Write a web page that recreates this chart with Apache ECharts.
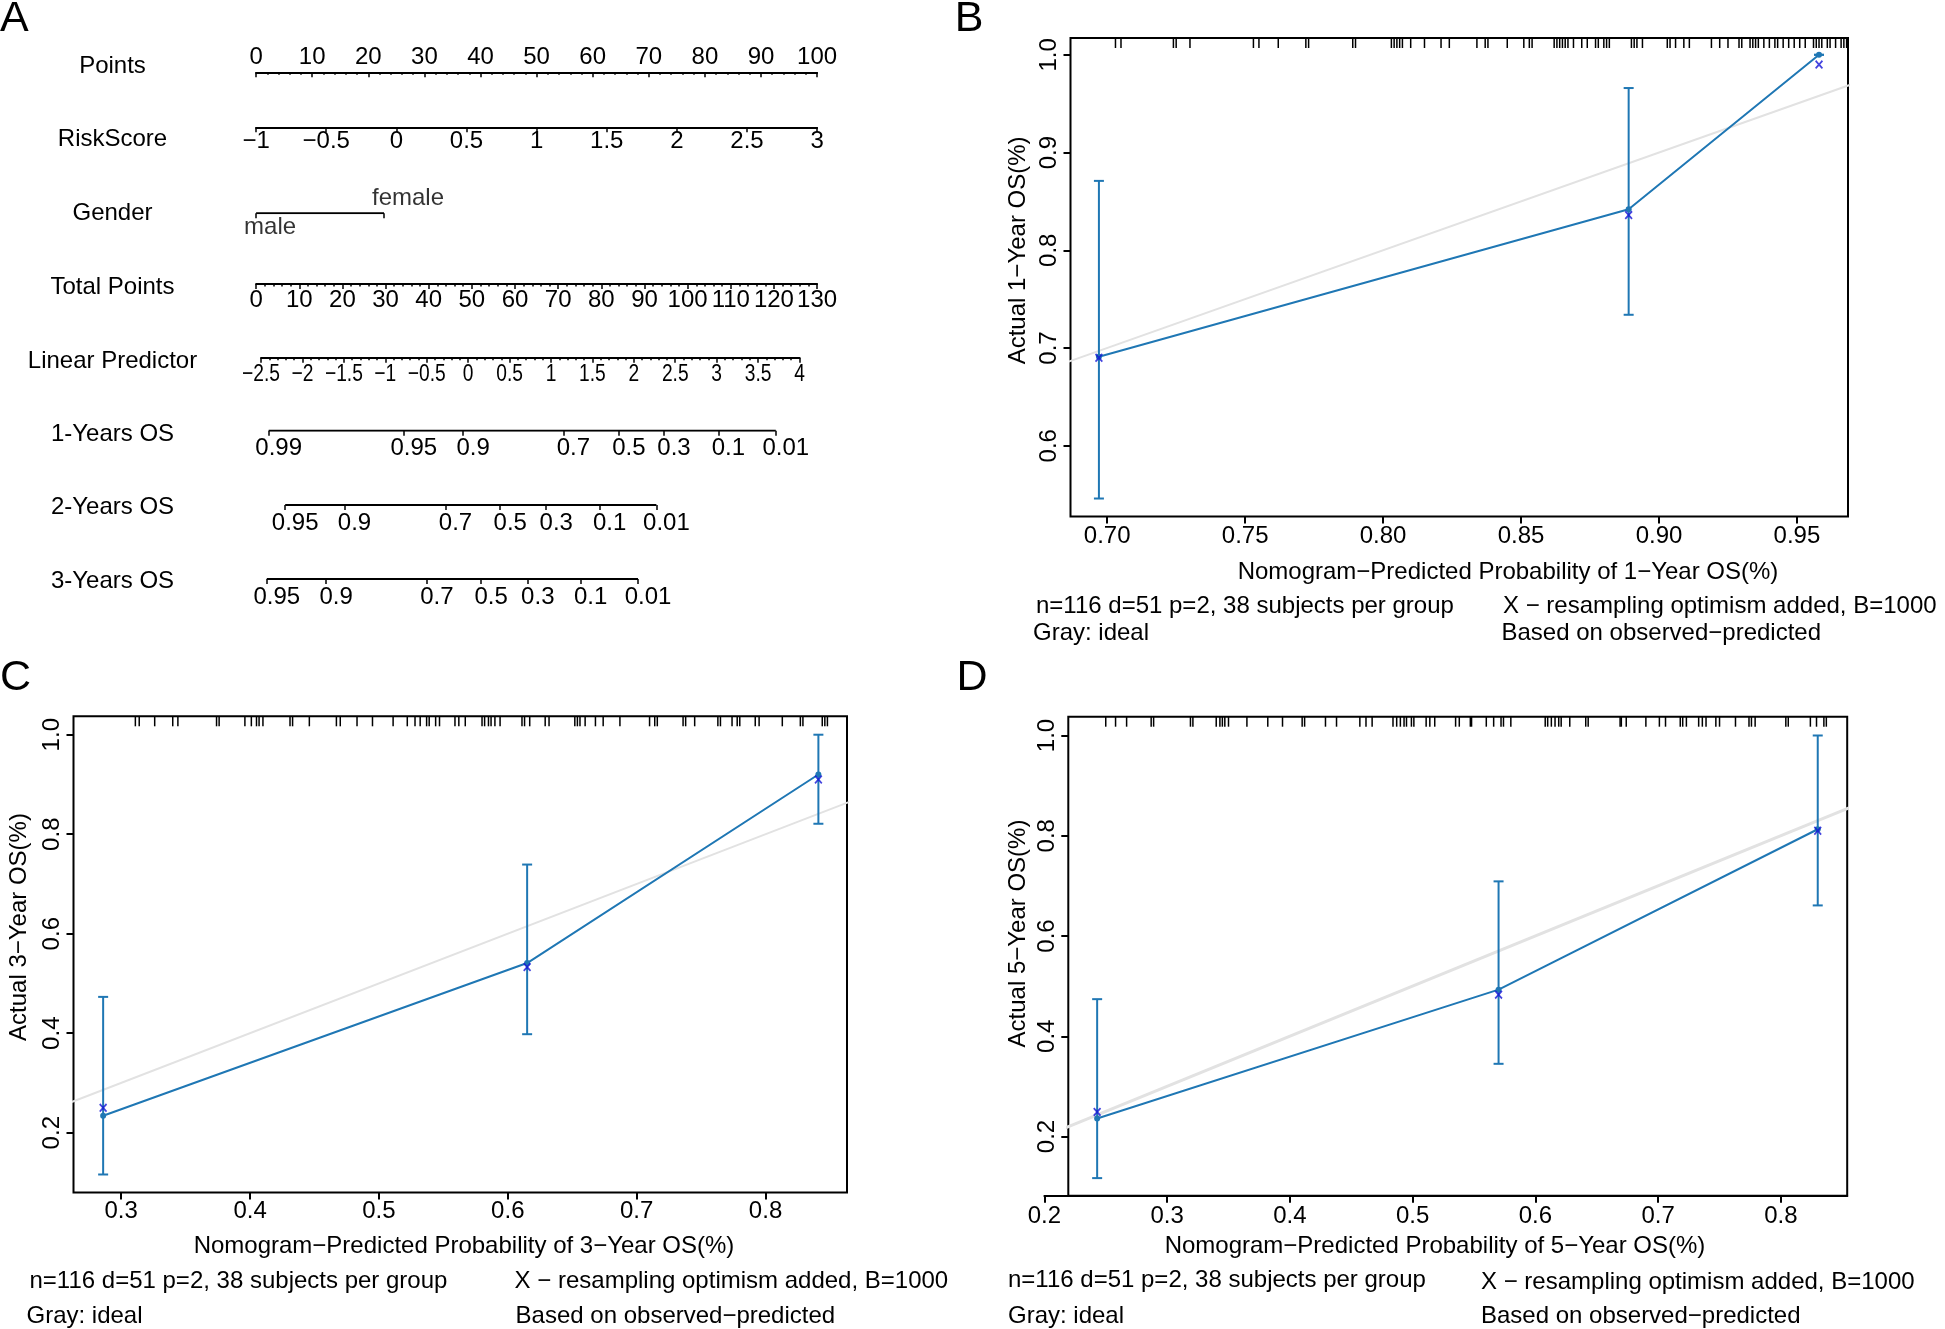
<!DOCTYPE html>
<html>
<head>
<meta charset="utf-8">
<script src="https://cdn.jsdelivr.net/npm/echarts@6/dist/echarts.min.js"></script>
<style>html,body{margin:0;padding:0;background:#fff}#main{width:1945px;height:1329px}</style>
</head>
<body>
<div id="main"></div>
<script>
// ================= DATA =================
// Panel A: nomogram scales
const nomoRowNames = ['Points', 'RiskScore', 'Gender', 'Total Points', 'Linear Predictor', '1-Years OS', '2-Years OS', '3-Years OS'];
const pointsRange = [0, 100];
const riskScoreRange = [-1, 3];
const genderLevels = ['male', 'female'];
const genderPoints = [0, 22.8];
const totalPointsRange = [0, 130];
const linearPredictorRange = [-2.5, 4];
const linearPredictorTicks = [-2.5, -2, -1.5, -1, -0.5, 0, 0.5, 1, 1.5, 2, 2.5, 3, 3.5, 4];
const os1Labels = ['0.99', '0.95', '0.9', '0.7', '0.5', '0.3', '0.1', '0.01'];
const os1TotalPoints = [2.92, 34.23, 47.97, 71.21, 84.07, 94.52, 107.13, 120.43];
const os2Labels = ['0.95', '0.9', '0.7', '0.5', '0.3', '0.1', '0.01'];
const os2TotalPoints = [6.74, 20.48, 43.89, 56.57, 67.23, 79.62, 92.76];
const os3Labels = ['0.95', '0.9', '0.7', '0.5', '0.3', '0.1', '0.01'];
const os3TotalPoints = [2.48, 16.22, 39.56, 52.14, 62.96, 75.20, 88.50];

// Panel B: 1-year calibration
const bPredicted = [0.697, 0.889, 0.958];
const bObserved = [0.691, 0.842, 1.000];
const bLower = [0.546, 0.734, 1.000];
const bUpper = [0.871, 0.966, 1.000];
const bCorrected = [0.690, 0.836, 0.990];
const bRug = [0.703,0.705,0.724,0.725,0.730,0.753,0.755,0.762,0.772,0.773,0.789,0.790,0.803,0.804,0.805,0.806,0.807,0.810,0.815,0.821,0.824,0.834,0.837,0.838,0.845,0.851,0.853,0.854,0.862,0.863,0.864,0.865,0.866,0.867,0.869,0.872,0.874,0.877,0.878,0.880,0.881,0.882,0.890,0.891,0.892,0.894,0.903,0.904,0.906,0.909,0.911,0.919,0.922,0.925,0.929,0.930,0.933,0.934,0.935,0.936,0.938,0.940,0.942,0.943,0.945,0.947,0.949,0.951,0.953,0.956,0.957,0.958,0.959,0.961,0.962,0.964,0.966,0.967,0.968];
const bXTicks = [0.70, 0.75, 0.80, 0.85, 0.90, 0.95];
const bYTicks = [0.6, 0.7, 0.8, 0.9, 1.0];

// Panel C: 3-year calibration
const cPredicted = [0.286, 0.615, 0.841];
const cObserved = [0.234, 0.541, 0.920];
const cLower = [0.116, 0.398, 0.821];
const cUpper = [0.473, 0.739, 1.000];
const cCorrected = [0.250, 0.533, 0.910];
const cRug = [0.311,0.314,0.326,0.340,0.344,0.374,0.376,0.396,0.401,0.405,0.407,0.410,0.431,0.433,0.446,0.467,0.470,0.483,0.495,0.511,0.522,0.528,0.532,0.537,0.539,0.544,0.547,0.559,0.562,0.567,0.580,0.582,0.585,0.587,0.590,0.594,0.611,0.613,0.617,0.629,0.632,0.652,0.654,0.656,0.660,0.668,0.674,0.687,0.710,0.714,0.716,0.736,0.738,0.745,0.763,0.765,0.774,0.778,0.780,0.792,0.795,0.813,0.827,0.829,0.844,0.846,0.848];
const cXTicks = [0.3, 0.4, 0.5, 0.6, 0.7, 0.8];
const cYTicks = [0.2, 0.4, 0.6, 0.8, 1.0];

// Panel D: 5-year calibration
const dPredicted = [0.243, 0.570, 0.830];
const dObserved = [0.236, 0.493, 0.813];
const dLower = [0.117, 0.345, 0.661];
const dUpper = [0.474, 0.709, 1.000];
const dCorrected = [0.249, 0.483, 0.810];
const dRug = [0.250,0.258,0.267,0.287,0.289,0.319,0.321,0.340,0.343,0.345,0.347,0.350,0.365,0.382,0.394,0.410,0.412,0.429,0.438,0.457,0.462,0.467,0.484,0.487,0.490,0.493,0.495,0.499,0.501,0.511,0.514,0.518,0.535,0.538,0.547,0.548,0.560,0.566,0.572,0.574,0.580,0.608,0.610,0.613,0.616,0.619,0.621,0.628,0.641,0.643,0.669,0.670,0.674,0.690,0.701,0.706,0.718,0.720,0.723,0.733,0.736,0.739,0.747,0.750,0.763,0.774,0.776,0.779,0.804,0.806,0.824,0.829,0.835,0.837];
const dXTicks = [0.2, 0.3, 0.4, 0.5, 0.6, 0.7, 0.8];
const dYTicks = [0.2, 0.4, 0.6, 0.8, 1.0];

const idealLine = [[0, 0], [1, 1]];

// ================= STYLE / LAYOUT =================
const FONT = "'Liberation Sans', Arial, Helvetica, sans-serif";
const BLUE = '#1f77b4';
const XBLUE = '#1414d6';
const GRAY = '#e2e2e2';
const MINUS = '\u2212';

const grids = [], xAxis = [], yAxis = [], series = [], texts = [];
function addGrid(g, xa, ya) {
  const i = grids.length;
  grids.push(g);
  xAxis.push(Object.assign({ gridIndex: i, type: 'value', splitLine: { show: false } }, xa));
  yAxis.push(Object.assign({ gridIndex: i, type: 'value', splitLine: { show: false } }, ya || { min: 0, max: 1, show: false }));
  return i;
}
const blackLine = { color: '#000', width: 2 };
const tickStyle = { color: '#000', width: 1.5 };
const lab = (extra) => Object.assign({ color: '#000', fontSize: 24, fontFamily: FONT }, extra);
const fmtMinus = v => (v < 0 ? MINUS + String(Math.abs(v)) : String(v));

// ---------- Panel A ----------
const NOMO_LEFT = 256.1, NOMO_W = 561;
const rowLineY = [72.3, 127.3, 213.3, 284, 357.7, 430.7, 505, 579];
const rowLabelY = [66, 139, 213, 287, 361, 434, 507, 581];

nomoRowNames.forEach((n, i) => texts.push({ text: n, x: 112.5, y: rowLabelY[i], align: 'center' }));

// Points
addGrid({ left: NOMO_LEFT, top: rowLineY[0], width: NOMO_W, height: 1 }, {
  position: 'top', min: pointsRange[0], max: pointsRange[1], interval: 10,
  axisLine: { show: true, onZero: false, lineStyle: blackLine },
  axisTick: { show: true, inside: true, length: 5, lineStyle: tickStyle },
  minorTick: { show: true, splitNumber: 5, length: 2.5, lineStyle: tickStyle },
  axisLabel: lab({ margin: 2.5 })
});
// RiskScore
addGrid({ left: NOMO_LEFT, top: rowLineY[1] - 1, width: NOMO_W, height: 1 }, {
  position: 'bottom', min: riskScoreRange[0], max: riskScoreRange[1], interval: 0.5,
  axisLine: { show: true, onZero: false, lineStyle: blackLine },
  axisTick: { show: true, length: 5, lineStyle: tickStyle },
  axisLabel: lab({ margin: 2, formatter: fmtMinus })
});
// Gender
const gGender = addGrid({ left: NOMO_LEFT, top: rowLineY[2] - 1, width: NOMO_W, height: 1 }, {
  position: 'bottom', min: pointsRange[0], max: pointsRange[1],
  axisLine: { show: false, onZero: false },
  axisTick: { show: true, customValues: genderPoints, length: 5, lineStyle: tickStyle },
  axisLabel: { show: false }
});
series.push({ type: 'line', xAxisIndex: gGender, yAxisIndex: gGender, silent: true, symbol: 'none',
  lineStyle: blackLine, data: genderPoints.map(p => [p, 0]) });
series.push({ type: 'scatter', xAxisIndex: gGender, yAxisIndex: gGender, silent: true, symbolSize: 1,
  itemStyle: { color: 'rgba(0,0,0,0)' },
  data: genderLevels.map((name, i) => ({
    value: [genderPoints[i], 0],
    label: { show: true, formatter: name, position: i === 0 ? 'bottom' : 'top', distance: i === 0 ? 1.5 : 2,
      align: 'left', offset: [-12, 0], color: '#000', fontSize: 24, fontFamily: FONT }
  })) });
// Total Points
addGrid({ left: NOMO_LEFT, top: rowLineY[3] - 1, width: NOMO_W, height: 1 }, {
  position: 'bottom', min: totalPointsRange[0], max: totalPointsRange[1], interval: 10,
  axisLine: { show: true, onZero: false, lineStyle: blackLine },
  axisTick: { show: true, length: 5, lineStyle: tickStyle },
  minorTick: { show: true, splitNumber: 5, length: 2.5, lineStyle: tickStyle },
  axisLabel: lab({ margin: 4.5 })
});
// Linear Predictor (labels drawn condensed by a custom series on the same axis)
const gLP = addGrid({ left: 261.05, top: rowLineY[4] - 1, width: 538.45, height: 1 }, {
  position: 'bottom', min: linearPredictorRange[0], max: linearPredictorRange[1], interval: 0.5,
  axisLine: { show: true, onZero: false, lineStyle: blackLine },
  axisTick: { show: true, length: 5, lineStyle: tickStyle },
  minorTick: { show: true, splitNumber: 5, length: 2.5, lineStyle: tickStyle },
  axisLabel: { show: false }
});
series.push({ type: 'custom', xAxisIndex: gLP, yAxisIndex: gLP, silent: true,
  data: linearPredictorTicks.map(v => [v, 0]), encode: { x: 0, y: 1 },
  renderItem: (params, api) => {
    const v = api.value(0);
    const p = api.coord([v, 0]);
    return { type: 'text', x: p[0], y: p[1] + 4.5, scaleX: 0.8, scaleY: 1,
      style: { text: fmtMinus(v), x: 0, y: 0, fill: '#000', font: '24px ' + FONT, align: 'center', verticalAlign: 'top' } };
  } });
// OS rows
[[os1Labels, os1TotalPoints], [os2Labels, os2TotalPoints], [os3Labels, os3TotalPoints]].forEach(([labels, vals], k) => {
  const gi = addGrid({ left: NOMO_LEFT, top: rowLineY[5 + k] - 1, width: NOMO_W, height: 1 }, {
    position: 'bottom', min: totalPointsRange[0], max: totalPointsRange[1],
    axisLine: { show: false, onZero: false },
    axisTick: { show: true, customValues: vals, length: 5, lineStyle: tickStyle },
    axisLabel: lab({ customValues: vals, margin: 6, padding: [0, 0, 0, 20],
      formatter: v => labels[vals.indexOf(v)] })
  });
  series.push({ type: 'line', xAxisIndex: gi, yAxisIndex: gi, silent: true, symbol: 'none',
    lineStyle: blackLine, data: [[vals[0], 0], [vals[vals.length - 1], 0]] });
});

// ---------- Calibration panels ----------
function calPanel(c) {
  const gi = addGrid(
    { left: c.left, top: c.top, width: c.width, height: c.height, show: true, borderColor: '#000', borderWidth: 2, backgroundColor: 'rgba(0,0,0,0)' },
    { min: c.xMin, max: c.xMax,
      axisLine: { show: false, onZero: false },
      axisTick: { show: !c.noXTicks, customValues: c.xTicks, length: 7, lineStyle: blackLine },
      axisLabel: lab({ show: !c.noXTicks, customValues: c.xTicks, margin: c.xMargin, formatter: v => v.toFixed(c.xDec) }) },
    { min: c.yMin, max: c.yMax,
      axisLine: { show: false, onZero: false },
      axisTick: { show: true, customValues: c.yTicks, length: 7, lineStyle: blackLine },
      axisLabel: lab({ customValues: c.yTicks, rotate: 90, margin: 9, formatter: v => v.toFixed(1) }) }
  );
  // ideal
  series.push({ type: 'line', xAxisIndex: gi, yAxisIndex: gi, silent: true, symbol: 'none', clip: true, z: 1,
    lineStyle: { color: GRAY, width: c.idealWidth }, data: idealLine });
  // observed
  series.push({ type: 'line', xAxisIndex: gi, yAxisIndex: gi, silent: true, symbol: 'circle', symbolSize: 6, z: 3,
    itemStyle: { color: BLUE }, lineStyle: { color: BLUE, width: 2 },
    data: c.pred.map((p, i) => [p, c.obs[i]]) });
  // error bars
  series.push({ type: 'custom', xAxisIndex: gi, yAxisIndex: gi, silent: true, z: 3,
    data: c.pred.map((p, i) => [p, c.lo[i], c.hi[i]]),
    encode: { x: 0, y: [1, 2] },
    renderItem: (params, api) => {
      const x = api.value(0);
      const a = api.coord([x, api.value(1)]), b = api.coord([x, api.value(2)]);
      const st = { stroke: BLUE, lineWidth: 2 };
      const w = 5;
      return { type: 'group', children: [
        { type: 'line', shape: { x1: a[0], y1: a[1], x2: b[0], y2: b[1] }, style: st },
        { type: 'line', shape: { x1: a[0] - w, y1: a[1], x2: a[0] + w, y2: a[1] }, style: st },
        { type: 'line', shape: { x1: b[0] - w, y1: b[1], x2: b[0] + w, y2: b[1] }, style: st }
      ] };
    } });
  // bias-corrected X
  series.push({ type: 'scatter', xAxisIndex: gi, yAxisIndex: gi, silent: true, z: 4,
    symbol: 'path://M0,1.5L1.5,0L5,3.5L8.5,0L10,1.5L6.5,5L10,8.5L8.5,10L5,6.5L1.5,10L0,8.5L3.5,5Z', symbolSize: [8, 9],
    itemStyle: { color: XBLUE }, data: c.pred.map((p, i) => [p, c.cor[i]]) });
  // rug
  series.push({ type: 'custom', xAxisIndex: gi, yAxisIndex: gi, silent: true, z: 2,
    data: c.rug.map(v => [v, c.yMax]), encode: { x: 0, y: 1 },
    renderItem: (params, api) => {
      const p = api.coord([api.value(0), api.value(1)]);
      return { type: 'line', shape: { x1: p[0], y1: p[1], x2: p[0], y2: p[1] + 10 }, style: { stroke: '#000', lineWidth: 1.5 } };
    } });
  return gi;
}

calPanel({ left: 1070.5, top: 38, width: 777.5, height: 478.5, xMin: 0.6867, xMax: 0.9685, yMin: 0.5276, yMax: 1.0172,
  xTicks: bXTicks, xDec: 2, yTicks: bYTicks, xMargin: 8, idealWidth: 2,
  pred: bPredicted, obs: bObserved, lo: bLower, hi: bUpper, cor: bCorrected, rug: bRug });
calPanel({ left: 73.5, top: 716.3, width: 773.5, height: 476.1, xMin: 0.263, xMax: 0.8632, yMin: 0.08, yMax: 1.037,
  xTicks: cXTicks, xDec: 1, yTicks: cYTicks, xMargin: 7, idealWidth: 2,
  pred: cPredicted, obs: cObserved, lo: cLower, hi: cUpper, cor: cCorrected, rug: cRug });
calPanel({ left: 1068.3, top: 716.7, width: 778.9, height: 479.1, xMin: 0.2195, xMax: 0.854, yMin: 0.0817, yMax: 1.0375,
  xTicks: dXTicks, xDec: 1, yTicks: dYTicks, noXTicks: true, idealWidth: 3,
  pred: dPredicted, obs: dObserved, lo: dLower, hi: dUpper, cor: dCorrected, rug: dRug });
// Panel D x axis extends left to 0.2
addGrid({ left: 1044.4, top: 716.7, width: 802.8, height: 479.1 }, {
  min: 0.2, max: 0.854,
  axisLine: { show: true, onZero: false, lineStyle: blackLine },
  axisTick: { show: true, customValues: dXTicks, length: 7, lineStyle: blackLine },
  axisLabel: lab({ customValues: dXTicks, margin: 9, formatter: v => v.toFixed(1) })
});

// ---------- texts ----------
const SUB1 = 'n=116 d=51 p=2, 38 subjects per group';
const SUB2 = 'Gray: ideal';
const SUB3 = 'X ' + MINUS + ' resampling optimism added, B=1000';
const SUB4 = 'Based on observed' + MINUS + 'predicted';
const xTitle = y => 'Nomogram' + MINUS + 'Predicted Probability of ' + y + MINUS + 'Year OS(%)';
const yTitle = y => 'Actual ' + y + MINUS + 'Year OS(%)';

texts.push(
  { text: 'A', x: 0, y: 19, size: 43 },
  { text: 'B', x: 969, y: 19, size: 43, align: 'center' },
  { text: 'C', x: 0, y: 678, size: 43 },
  { text: 'D', x: 972, y: 678, size: 43, align: 'center' },
  // B
  { text: xTitle(1), x: 1508, y: 572.5, align: 'center' },
  { text: yTitle(1), x: 1018, y: 250.4, align: 'center', rot: Math.PI / 2 },
  { text: SUB1, x: 1036, y: 606.8 }, { text: SUB2, x: 1033, y: 633.3 },
  { text: SUB3, x: 1503, y: 606.8 }, { text: SUB4, x: 1501.5, y: 633 },
  // C
  { text: xTitle(3), x: 464, y: 1246, align: 'center' },
  { text: yTitle(3), x: 19.6, y: 927, align: 'center', rot: Math.PI / 2 },
  { text: SUB1, x: 29.5, y: 1281.5 }, { text: SUB2, x: 26.5, y: 1316 },
  { text: SUB3, x: 514.6, y: 1281.5 }, { text: SUB4, x: 515.6, y: 1316 },
  // D
  { text: xTitle(5), x: 1435, y: 1246, align: 'center' },
  { text: yTitle(5), x: 1018.7, y: 933.5, align: 'center', rot: Math.PI / 2 },
  { text: SUB1, x: 1008, y: 1280.5 }, { text: SUB2, x: 1008, y: 1316 },
  { text: SUB3, x: 1481, y: 1282.5 }, { text: SUB4, x: 1481, y: 1316 }
);

const graphicElements = texts.map(t => ({
  type: 'text', x: t.x, y: t.y, rotation: t.rot || 0, silent: true,
  style: { text: t.text, x: 0, y: 0, fill: '#000', font: (t.size || 24) + 'px ' + FONT,
    align: t.align || 'left', verticalAlign: 'middle', textAlign: t.align || 'left', textVerticalAlign: 'middle' }
}));

const chart = echarts.init(document.getElementById('main'), null, { renderer: 'canvas' });
chart.setOption({
  animation: false,
  backgroundColor: '#fff',
  grid: grids, xAxis: xAxis, yAxis: yAxis, series: series,
  graphic: { elements: graphicElements }
});
</script>
</body>
</html>
